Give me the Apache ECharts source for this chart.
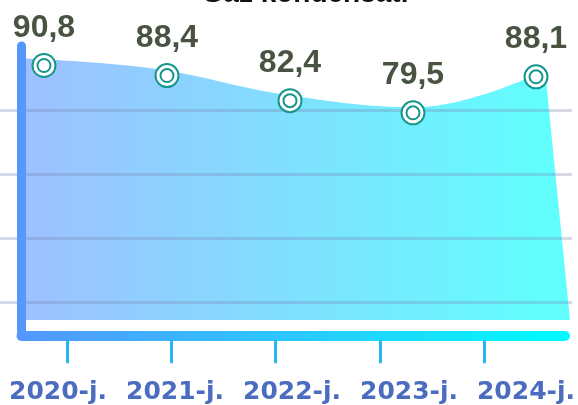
<!DOCTYPE html>
<html>
<head>
<meta charset="utf-8">
<script src="https://cdn.jsdelivr.net/npm/echarts@6/dist/echarts.min.js"></script>
<style>html,body{margin:0;padding:0;background:#fff}#c{width:578px;height:405px}</style>
</head>
<body>
<div id="c"></div>
<script>
const titleText = 'Gaz kondensati';
const categories = ['2020-j.', '2021-j.', '2022-j.', '2023-j.', '2024-j.'];
const values = [90.8, 88.4, 82.4, 79.5, 88.1];

const FONT = '"Liberation Sans", Arial, sans-serif';
const FONT2 = '"DejaVu Sans", Verdana, sans-serif';
const chart = echarts.init(document.getElementById('c'), null, {renderer: 'canvas'});
const fmt = v => String(v).replace('.', ',');
const hidden = {show: false};
const G = echarts.graphic;

const catAxis = (gridIndex, extra) => Object.assign({
  type: 'category', gridIndex, data: categories, boundaryGap: false,
  axisLine: hidden, axisTick: hidden, axisLabel: hidden, splitLine: hidden
}, extra || {});
const valAxis = (gridIndex, extra) => Object.assign({
  type: 'value', gridIndex, min: 30, max: 100,
  axisLine: hidden, axisTick: hidden, axisLabel: hidden, splitLine: hidden
}, extra || {});

const option = {
  animation: false,
  graphic: [{
    type: 'text', x: 305, y: 8, z: 10,
    style: {text: titleText, textAlign: 'center', textVerticalAlign: 'bottom',
      font: 'bold 28px ' + FONT, fill: '#111'}
  }],
  grid: [
    {left: 21.5, right: 13, top: 46, bottom: 69},   // 0 frame
    {left: 0, right: 6, top: 110, bottom: 103},     // 1 split lines
    {left: 26, right: 32, top: 19, bottom: 85},     // 2 area
    {left: 44, right: 42, top: 27, bottom: 85},     // 3 points
    {left: 67, right: 94, top: 100, bottom: 64},    // 4 ticks
    {left: 58, right: 48, top: 100, bottom: 64}     // 5 labels
  ],
  xAxis: [
    catAxis(0, {z: 6, axisLine: {show: true, lineStyle: {width: 10, cap: 'round',
      color: new G.LinearGradient(0, 0, 1, 0, [{offset: 0, color: '#5596ff'}, {offset: 1, color: '#00fbff'}])}}}),
    catAxis(1),
    catAxis(2),
    catAxis(3),
    catAxis(4, {z: 6, axisTick: {show: true, alignWithLabel: true, length: 21,
      lineStyle: {width: 3, cap: 'round', color: '#27b8f8'}}}),
    catAxis(5, {axisLabel: {show: true, margin: 40, interval: 0,
      fontFamily: FONT2, fontSize: 25, fontWeight: 'bold', color: '#4b6cbf'}})
  ],
  yAxis: [
    valAxis(0, {z: 6, axisLine: {show: true, lineStyle: {width: 9, cap: 'round', color: '#5597fb'}}}),
    {type: 'value', gridIndex: 1, min: 0, max: 3, interval: 1, z: 3,
      axisLine: hidden, axisTick: hidden, axisLabel: hidden,
      splitLine: {show: true, lineStyle: {width: 3, color: 'rgba(120,130,175,0.3)'}}},
    valAxis(2),
    valAxis(3),
    valAxis(4),
    valAxis(5)
  ],
  series: [
    {
      type: 'line', xAxisIndex: 2, yAxisIndex: 2, data: values, smooth: 0.4,
      symbol: 'none', lineStyle: {width: 0, opacity: 0}, z: 2,
      areaStyle: {origin: 'start', opacity: 1,
        color: new G.LinearGradient(0, 0, 1, 0, [{offset: 0, color: '#9ec0ff'}, {offset: 1, color: '#62fefe'}])}
    },
    {
      type: 'custom', xAxisIndex: 2, yAxisIndex: 2, data: values.map((v, i) => [i, v]), z: 2,
      renderItem: function (params, api) {
        if (params.dataIndex !== values.length - 1) return null;
        const p = api.coord([api.value(0), api.value(1)]);
        const cs = params.coordSys;
        const bottom = cs.y + cs.height;
        return {type: 'polygon', shape: {points: [[p[0] - 1, p[1]], [p[0] - 1, bottom], [p[0] + 24, bottom]]},
          style: {fill: '#62fefe'}};
      }
    },
    {
      type: 'scatter', xAxisIndex: 3, yAxisIndex: 3, data: values, z: 4,
      symbol: 'circle', symbolSize: 23,
      itemStyle: {color: '#ffffff', borderColor: '#16968c', borderWidth: 2, opacity: 1},
      label: {show: true, position: 'top', distance: 9, formatter: p => fmt(p.value),
        fontFamily: FONT, fontSize: 32, fontWeight: 'bold', color: '#495341', opacity: 1}
    },
    {
      type: 'scatter', xAxisIndex: 3, yAxisIndex: 3, data: values, z: 5,
      symbol: 'circle', symbolSize: 13, silent: true,
      itemStyle: {color: '#ffffff', borderColor: '#16968c', borderWidth: 2, opacity: 1}
    }
  ]
};
chart.setOption(option);
</script>
</body>
</html>
